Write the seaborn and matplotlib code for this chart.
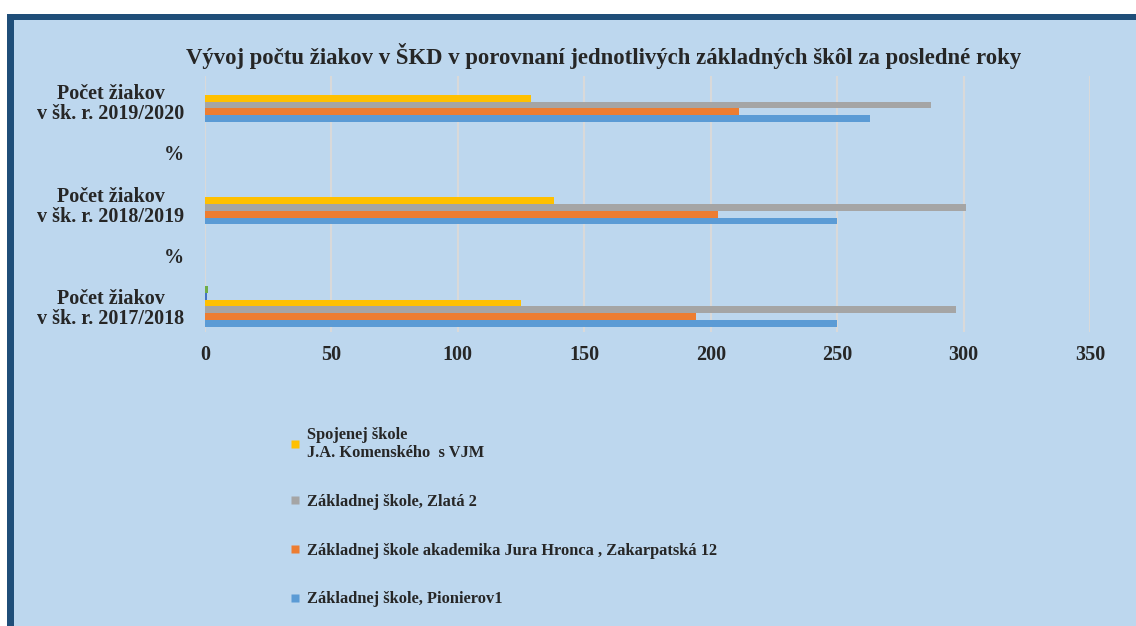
import pandas as pd
import seaborn as sns
import matplotlib.pyplot as plt
from matplotlib.patches import Rectangle
from matplotlib.lines import Line2D

# === Data ===
category_keys = ["r2019", "p1", "r2018", "p2", "r2017"]
category_labels = [
    "Počet žiakov\nv šk. r. 2019/2020",
    "%",
    "Počet žiakov\nv šk. r. 2018/2019",
    "%",
    "Počet žiakov\nv šk. r. 2017/2018",
]

series_names = [
    "Séria 6",
    "Séria 5",
    "Spojenej škole\nJ.A. Komenského  s VJM",
    "Základnej škole, Zlatá 2",
    "Základnej škole akademika Jura Hronca , Zakarpatská 12",
    "Základnej škole, Pionierov1",
]
series_6 = [0, 0, 0, 0, 1.0]
series_5 = [0, 0, 0, 0, 0.6]
komenskeho = [129, 0, 138, 0, 125]
zlata = [287, 0, 301, 0, 297]
hronca = [211, 0, 203, 0, 194]
pionierov = [263, 0, 250, 0, 250]

series_colors = ["#70AD47", "#4472C4", "#FFC000", "#A5A5A5", "#ED7D31", "#5B9BD5"]
legend_series = series_names[2:]
legend_colors = series_colors[2:]

x_ticks = [0, 50, 100, 150, 200, 250, 300, 350]
title = "Vývoj počtu žiakov v ŠKD v porovnaní jednotlivých základných škôl za posledné roky"

# === Long table for seaborn ===
rows = []
for name, values in zip(series_names, [series_6, series_5, komenskeho, zlata, hronca, pionierov]):
    for key, v in zip(category_keys, values):
        rows.append({"kategoria": key, "skola": name, "pocet": v})
df = pd.DataFrame(rows)

# === Style ===
bg = "#BDD7EE"
frame = "#1F4E79"
sns.set_style("white")
plt.rcParams["font.family"] = ["Liberation Serif", "DejaVu Serif"]
plt.rcParams["font.weight"] = "bold"

fig = plt.figure(figsize=(11.36, 6.26), dpi=100)
W, H = 1136, 626

# frame: dark blue border on top/left, light blue panel
fig.patches.append(Rectangle((7 / W, 0), 1, (H - 14) / H, transform=fig.transFigure,
                             facecolor=frame, edgecolor="none", zorder=-10))
fig.patches.append(Rectangle((14 / W, 0), 1, (H - 20) / H, transform=fig.transFigure,
                             facecolor=bg, edgecolor="none", zorder=-9))

ax = fig.add_axes([205 / W, 1 - 332 / H, (1090 - 205) / W, (332 - 76) / H])
ax.set_zorder(1)
ax.set_facecolor("none")

sns.barplot(
    data=df, y="kategoria", x="pocet", hue="skola",
    order=category_keys, hue_order=series_names,
    palette=series_colors, saturation=1, orient="h", errorbar=None,
    width=0.8, linewidth=0, legend=False, ax=ax,
)

ax.set_xlim(0, 350)
ax.set_ylim(4.5, -0.5)
ax.set_xticks(x_ticks)
ax.set_xticklabels([str(t) for t in x_ticks])
ax.set_yticks(range(len(category_keys)))
ax.set_yticklabels(category_labels, multialignment="center", linespacing=1.0)
ax.grid(axis="x", color="#D9D9D9", linewidth=1.5)
ax.set_axisbelow(True)
for s in ax.spines.values():
    s.set_visible(False)
ax.tick_params(axis="x", length=0, pad=9, labelsize=14.5)
ax.tick_params(axis="y", length=0, pad=15, labelsize=14.5)
ax.set_xlabel("")
ax.set_ylabel("")

fig.text(0.531, 1 - 56 / H, title, ha="center", va="center", fontsize=16.4, fontweight="bold")

handles = [Line2D([], [], marker="s", linestyle="none", markersize=6,
                  markerfacecolor=c, markeredgecolor="none") for c in legend_colors]
fig.legend(handles, legend_series, loc="upper left", bbox_to_anchor=(284 / W, 1 - 420 / H),
           frameon=False, fontsize=11.8, labelspacing=2.0, handlelength=0.6,
           handletextpad=0.4, borderaxespad=0)

fig.savefig("out.png", dpi=100, facecolor="white")
